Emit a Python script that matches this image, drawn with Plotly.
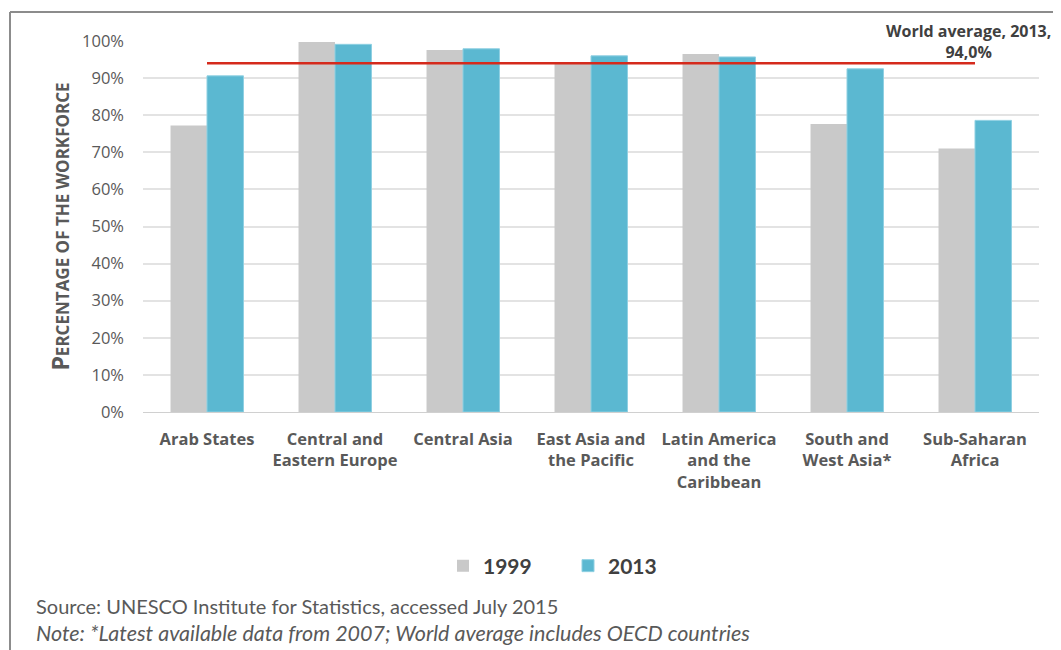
import plotly.graph_objects as go

categories = ["Arab States", "Central and<br>Eastern Europe", "Central Asia",
              "East Asia and<br>the Pacific", "Latin America<br>and the<br>Caribbean",
              "South and<br>West Asia*", "Sub-Saharan<br>Africa"]
values_1999 = [77.2, 99.7, 97.6, 93.9, 96.5, 77.6, 71.0]
values_2013 = [90.6, 99.1, 97.9, 96.0, 95.7, 92.5, 78.6]
world_avg_2013 = 94.0
y_ticks = [0, 10, 20, 30, 40, 50, 60, 70, 80, 90, 100]
y_tick_labels = [f"{v}%" for v in y_ticks]

OFF = 8  # page body margin
W, H = 1061 - OFF, 650 - OFF
# plot area in page coordinates: x 143..1039, y 41..412
L = 143 - OFF
T = 41 - OFF
R = W - (1039 - OFF)
B = H - (412 - OFF)
pw = W - L - R
ph = H - T - B

def px(x):
    return (x - OFF - L) / pw

def py(y):
    return (H - B - (y - OFF)) / ph

GREY_TXT = "#595959"

fig = go.Figure()
fig.add_trace(go.Bar(x=categories, y=values_1999, name="1999",
                     marker=dict(color="#c9c9c9", line=dict(width=0))))
fig.add_trace(go.Bar(x=categories, y=values_2013, name="2013",
                     marker=dict(color="#5bb8d1", line=dict(color="#8fd0e2", width=1))))
fig.add_trace(go.Scatter(x=[categories[0], categories[-1]],
                         y=[world_avg_2013, world_avg_2013],
                         mode="lines", line=dict(color="#d52a1c", width=2.5),
                         showlegend=False, hoverinfo="skip"))

fig.update_layout(
    width=W, height=H,
    margin=dict(l=L, r=R, t=T, b=B, autoexpand=False),
    paper_bgcolor="white", plot_bgcolor="white",
    barmode="group", bargap=0.43, bargroupgap=0,
    font=dict(family="Open Sans", color=GREY_TXT),
    legend=dict(orientation="h", x=px(568), xanchor="center", y=py(566), yanchor="middle",
                font=dict(family="Lato", size=21, color="#404040", weight="bold"),
                itemwidth=30, traceorder="normal", entrywidth=80),
    xaxis=dict(showgrid=False, showline=True, linecolor="#d0d0d0", linewidth=1,
               tickfont=dict(family="Open Sans", size=16.5, color=GREY_TXT, weight="bold"),
               ticks="", ticklabelstandoff=12),
    yaxis=dict(range=[0, 100], tickmode="array", tickvals=y_ticks, ticktext=y_tick_labels,
               showgrid=True, gridcolor="#e3e3e3", gridwidth=1.5, zeroline=False,
               tickfont=dict(family="Open Sans", size=16.5, color=GREY_TXT),
               ticks="", ticklabelstandoff=18,
               title=dict(text="<span style='font-size:23px'>P</span>ERCENTAGE OF THE WORKFORCE",
                          font=dict(family="Open Sans", size=17, color=GREY_TXT, weight="bold"),
                          standoff=8)),
    shapes=[
        dict(type="line", xref="paper", yref="paper",
             x0=px(10), x1=px(10), y0=py(12), y1=py(670),
             line=dict(color="#8c8c8c", width=2)),
        dict(type="line", xref="paper", yref="paper",
             x0=px(10), x1=px(1080), y0=py(12), y1=py(12),
             line=dict(color="#8c8c8c", width=2)),
    ],
    annotations=[
        dict(text="World average, 2013,<br>94,0%", xref="paper", yref="paper",
             x=px(968), y=py(41.5), xanchor="center", yanchor="middle", showarrow=False,
             align="center",
             font=dict(family="Open Sans", size=16, color="#404040", weight="bold")),
        dict(text="Source: UNESCO Institute for Statistics, accessed July 2015",
             xref="paper", yref="paper", x=px(34), y=py(606), xanchor="left",
             yanchor="middle", showarrow=False,
             font=dict(family="Lato", size=20, color="#595959")),
        dict(text="<i>Note: *Latest available data from 2007; World average includes OECD countries</i>",
             xref="paper", yref="paper", x=px(34), y=py(633), xanchor="left",
             yanchor="middle", showarrow=False,
             font=dict(family="Lato", size=21.5, color="#595959")),
    ],
)

fig.write_html("out.html")
